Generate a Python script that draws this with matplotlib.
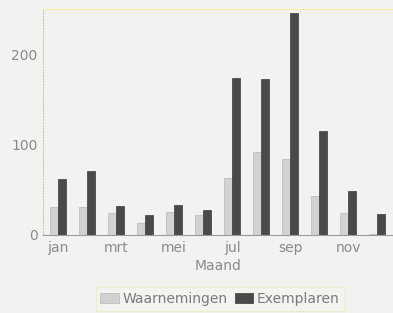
import matplotlib
matplotlib.use("Agg")
import matplotlib.pyplot as plt
import numpy as np

maanden = ["jan", "feb", "mrt", "apr", "mei", "jun",
           "jul", "aug", "sep", "okt", "nov", "dec"]
waarnemingen = [31, 31, 24, 13, 26, 22, 63, 92, 84, 43, 24, 1]
exemplaren = [62, 71, 32, 22, 33, 28, 174, 173, 247, 116, 49, 23]

fig = plt.figure(figsize=(3.93, 3.13), dpi=100, facecolor="#f2f2f0")
ax = fig.add_axes([43 / 393, 78 / 313, 350 / 393, 226 / 313])
ax.set_facecolor("#f2f2f0")

x = np.arange(len(maanden))
w = 0.28
ax.bar(x - w / 2, waarnemingen, w, color="#d2d2d2", edgecolor="#b8b8b8",
       linewidth=0.5, label="Waarnemingen")
ax.bar(x + w / 2, exemplaren, w, color="#4a4a4a", edgecolor="#3a3a3a",
       linewidth=0.5, label="Exemplaren")

ax.set_xlim(-0.52, 11.55)
ax.set_ylim(0, 251)
ax.set_yticks([0, 100, 200])
ax.set_xticks(x[::2])
ax.set_xticklabels(maanden[::2])
ax.tick_params(length=0, colors="#8a8a8a", labelsize=10, pad=4)
ax.set_xlabel("Maand", color="#8a8a8a", fontsize=10, labelpad=3)

ax.spines["right"].set_visible(False)
ax.spines["top"].set_color("#f4f0a8")
ax.spines["left"].set_color("#c8c8b8")
ax.spines["left"].set_linestyle(":")
ax.spines["bottom"].set_color("#9a9a9a")

fig.legend(loc="lower center", bbox_to_anchor=(0.56, -0.016), ncol=2,
           fontsize=10, frameon=True, edgecolor="#e8eec0", facecolor="#f4f4f2",
           fancybox=False, handlelength=1.3, handletextpad=0.3,
           columnspacing=0.5, borderpad=0.35, labelcolor="#7a7a7a")

fig.savefig("out.png", dpi=100, facecolor=fig.get_facecolor())
